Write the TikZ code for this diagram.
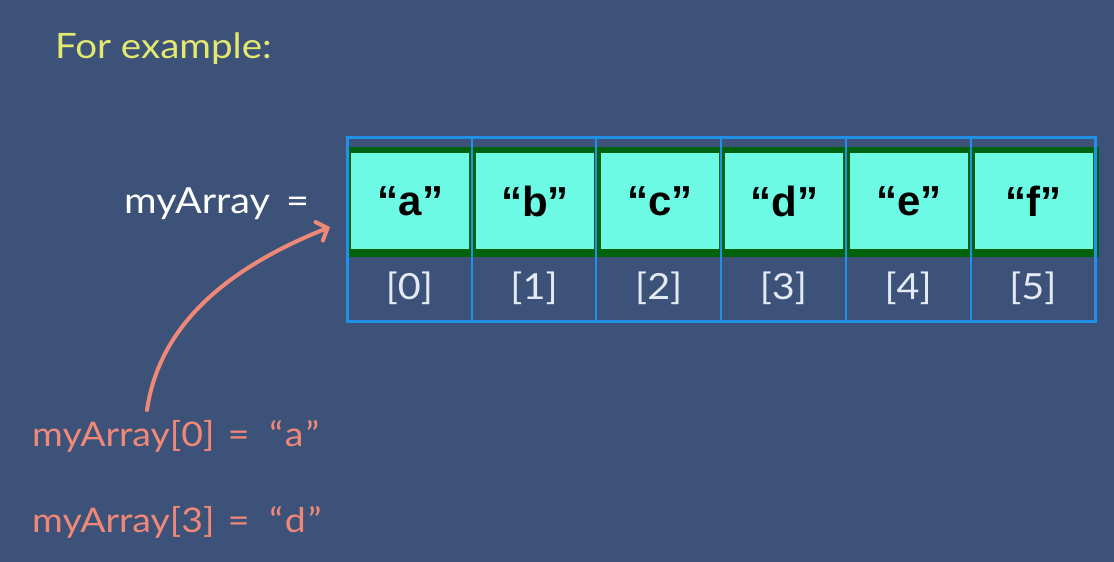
\documentclass[tikz,border=0pt]{standalone}
\usepackage{fontspec}
\setmainfont{Lato}[FakeStretch=1.1]
\newfontfamily\cellfont{Liberation Sans}
\usetikzlibrary{arrows.meta}

\definecolor{slide}{RGB}{60,82,121}
\definecolor{cellfill}{RGB}{108,250,228}
\definecolor{cellline}{RGB}{0,98,10}
\definecolor{frameblue}{RGB}{32,144,232}
\definecolor{salmon}{RGB}{240,136,120}
\definecolor{titleyellow}{RGB}{228,232,110}
\definecolor{idxwhite}{RGB}{228,234,244}

\tikzset{
  cell/.style={fill=cellfill, minimum width=118pt, minimum height=96pt, inner sep=0pt,
    font=\cellfont\bfseries\fontsize{42}{44}\selectfont},
  idx/.style={text=idxwhite, inner sep=0pt, font=\fontsize{36}{40}\selectfont},
  example/.style={anchor=base west, text=salmon, inner sep=0pt,
    font=\fontsize{34}{36}\selectfont},
  pointer/.style={salmon, line width=4pt, line cap=round,
    -{Straight Barb[length=9pt,width=20pt,line cap=round]}}
}

\begin{document}
\begin{tikzpicture}[x=1pt,y=-1pt]

    \fill[slide] (0,0) rectangle (1114,562);
    \useasboundingbox (0,0) rectangle (1114,562);

    \def\cw{124.7}
    \def\xl{347}

    \coordinate (src) at (147,410);
    \coordinate (tip) at (330,227);

    \node[anchor=base west, text=titleyellow, inner sep=0pt,
      font=\fontsize{35}{38}\selectfont] (title) at (55,58) {For example:};
    \node[anchor=base west, text=white, inner sep=0pt,
      font=\fontsize{36}{38}\selectfont] (arrlabel) at (124,213) {myArray \,=};

    \fill[cellline] (\xl,147) rectangle (1099,257);

    \foreach \c [count=\i from 0] in {a,b,c,d,e,f} {
        \node[cell] (v\i) at ({\xl+(\i+0.5)*\cw+1},201) {“\c”};
        \node[idx] (i\i) at ({\xl+(\i+0.5)*\cw},288) {[\i]};
    }

    \foreach \k in {1,...,5}
        \draw[frameblue, line width=2pt] ({\xl+\k*\cw},137.5) -- ({\xl+\k*\cw},321);
    \draw[frameblue, line width=3pt] (\xl,137.5) rectangle ({\xl+6*\cw},321);

    \node[example] (ex0) at (32,446)
      {myArray[0]\hspace{4pt} = \hspace{10pt}“\hspace{2pt}a\hspace{2pt}”};
    \node[example] (ex3) at (32,532)
      {myArray[3]\hspace{4pt} = \hspace{10pt}“\hspace{2pt}d\hspace{2pt}”};

    \draw[pointer] (src) .. controls (160,320) and (235,265) .. (tip);

\end{tikzpicture}
\end{document}
